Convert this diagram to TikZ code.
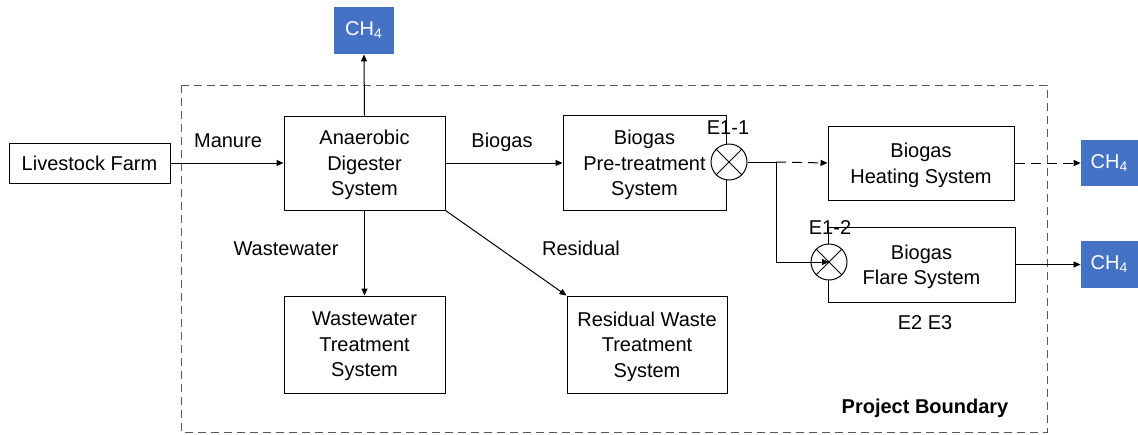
\documentclass[tikz,border=0pt]{standalone}
\usepackage{fontspec}
\setmainfont{Liberation Sans}
\usetikzlibrary{arrows.meta}
\definecolor{chblue}{HTML}{4472C4}
\definecolor{bgray}{HTML}{595959}
\tikzset{
  every node/.style={font=\fontsize{10}{12.75}\selectfont},
  box/.style={draw, line width=0.5pt, fill=white, align=center, inner sep=1pt},
  mbox/.style={box, text depth=-1pt},
  chbox/.style={fill=chblue, text=white, inner sep=0pt, font=\fontsize{10}{12}\selectfont},
  valve/.style={draw, line width=0.5pt, fill=white, circle, minimum size=18pt, inner sep=0pt},
  lbl/.style={anchor=base, inner sep=0pt},
  conn/.style={line width=0.5pt, -{Triangle[length=3.5pt,width=3pt]}},
  plain/.style={line width=0.5pt},
  boundary/.style={draw=bgray, line width=0.5pt, dash pattern=on 4pt off 2.5pt},
}
\begin{document}
\begin{tikzpicture}[x=0.5pt, y=-0.5pt]
\useasboundingbox (0,0) rectangle (1138,434);
% boundary
\draw[boundary] (181,85) rectangle (1047,432);
% boxes
\node[box, minimum width=80.5pt, minimum height=20pt] (farm) at (89.5,163) {Livestock Farm};
\node[mbox, minimum width=80.5pt, minimum height=47pt] (dig) at (364.5,163) {Anaerobic\\Digester\\System};
\node[chbox, minimum width=30pt, minimum height=23.5pt] (ch1) at (364,30.5) {CH\textsubscript{4}};
\node[mbox, minimum width=81.5pt, minimum height=47.5pt] (pre) at (644.5,163) {Biogas\\Pre-treatment\\System};
\node[mbox, minimum width=93pt, minimum height=37pt] (heat) at (921,163) {Biogas\\Heating System};
\node[mbox, minimum width=93.5pt, minimum height=37.5pt] (flare) at (921.5,264.5) {Biogas\\Flare System};
\node[chbox, minimum width=28.5pt, minimum height=23pt] (ch2) at (1109.5,163) {CH\textsubscript{4}};
\node[chbox, minimum width=28.5pt, minimum height=23.5pt] (ch3) at (1109.5,264.5) {CH\textsubscript{4}};
\node[mbox, minimum width=80.5pt, minimum height=48.5pt] (ww) at (364.5,344.5) {Wastewater\\Treatment\\System};
\node[mbox, minimum width=80pt, minimum height=48.5pt] (res) at (647,344.5) {Residual Waste\\Treatment\\System};
% valves
\node[valve] (e11) at (729,162) {};
\node[valve] (e12) at (829,262) {};
\draw[plain] (e11.north west) -- (e11.south east) (e11.north east) -- (e11.south west);
\draw[plain] (e12.north west) -- (e12.south east) (e12.north east) -- (e12.south west);
\coordinate (br) at (776,162);
% labels
\node[lbl] (lman) at (228,147) {Manure};
\node[lbl] (lbio) at (502,147) {Biogas};
\node[lbl] (lww) at (286,255) {Wastewater};
\node[lbl] (lres) at (581,255) {Residual};
\node[lbl] (le11) at (728,134) {E1-1};
\node[lbl] (le12) at (830,234) {E1-2};
\node[lbl] (le23) at (925,329) {E2 E3};
\node[lbl, font=\fontsize{10}{12}\selectfont\bfseries] (lpb) at (925,413) {Project Boundary};
% connectors
\draw[conn] (farm.east) -- (dig.west);
\draw[conn] (dig.north) -- (ch1.south);
\draw[conn] (dig.east) -- (pre.west);
\draw[conn] (dig.south) -- (ww.north);
\draw[conn] (dig.south east) -- (res.north west);
\draw[plain] (e11.east) -- (br);
\draw[conn, dash pattern=on 5pt off 3pt] (br) -- (heat.west);
\draw[conn] (br) |- (e12.center);
\draw[conn, dash pattern=on 5pt off 3pt] (heat.east) -- (ch2.west);
\draw[conn] (flare.east) -- (ch3.west);
\end{tikzpicture}
\end{document}
